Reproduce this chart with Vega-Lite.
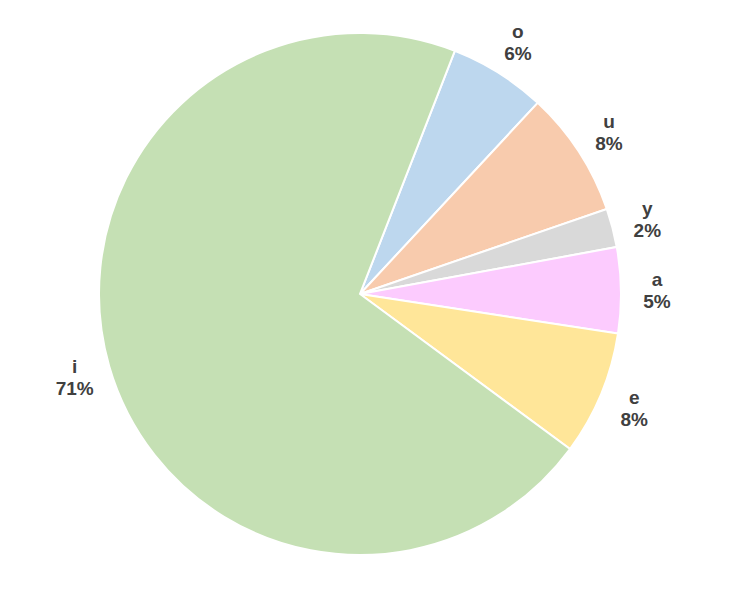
{
  "$schema": "https://vega.github.io/schema/vega-lite/v6.json",
  "width": 750,
  "height": 600,
  "autosize": {"type": "fit", "contains": "padding"},
  "padding": {"left": 0, "top": 0, "right": 30, "bottom": 12},
  "background": "white",
  "view": {"stroke": null},
  "data": {
    "values": [
      {"vowel": "o", "pct": 6.0, "order": 1},
      {"vowel": "u", "pct": 7.8, "order": 2},
      {"vowel": "y", "pct": 2.4, "order": 3},
      {"vowel": "a", "pct": 5.3, "order": 4},
      {"vowel": "e", "pct": 7.7, "order": 5},
      {"vowel": "i", "pct": 70.8, "order": 6}
    ]
  },
  "transform": [
    {"calculate": "[datum.vowel, format(datum.pct / 100, '.0%')]", "as": "label"}
  ],
  "encoding": {
    "theta": {"field": "pct", "type": "quantitative", "stack": true, "scale": {"range": [0.372, 6.655]}},
    "order": {"field": "order", "type": "quantitative"},
    "color": {
      "field": "vowel",
      "type": "nominal",
      "legend": null,
      "scale": {
        "domain": ["o", "u", "y", "a", "e", "i"],
        "range": ["#bdd7ee", "#f8cbad", "#d9d9d9", "#fccbfe", "#ffe699", "#c5e0b4"]
      }
    }
  },
  "layer": [
    {
      "mark": {"type": "arc", "outerRadius": 261, "stroke": "white", "strokeWidth": 2}
    },
    {
      "mark": {"type": "text", "radius": 297, "dy": -10, "font": "Liberation Sans", "fontSize": 19, "fontWeight": "bold", "fill": "#404040", "align": "center", "baseline": "middle", "lineHeight": 22},
      "encoding": {
        "text": {"field": "label"},
        "color": {"value": "#404040"}
      }
    }
  ]
}
